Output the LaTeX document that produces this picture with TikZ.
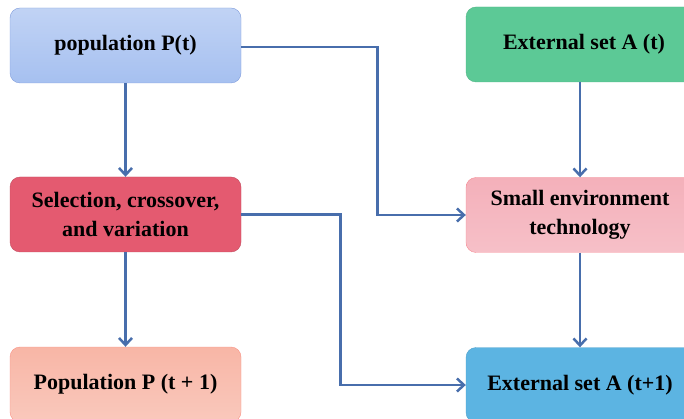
\documentclass[tikz,border=0pt]{standalone}
\usepackage{fontspec}
\setmainfont{Liberation Serif}
\usetikzlibrary{arrows.meta}

\definecolor{linkblue}{RGB}{72,110,172}
\definecolor{popblue}{RGB}{166,192,240}
\definecolor{popedge}{RGB}{128,156,220}
\definecolor{extgreen}{RGB}{92,201,150}
\definecolor{selred}{RGB}{228,90,112}
\definecolor{envpink}{RGB}{244,176,186}
\definecolor{nextsalmon}{RGB}{248,182,166}
\definecolor{extsky}{RGB}{92,180,226}

\tikzset{
	box/.style={rounded corners=10pt, minimum width=231pt, minimum height=75pt,
		inner sep=0pt, align=center, font=\fontsize{22}{28.5}\selectfont\bfseries, text=black},
	link/.style={draw=linkblue, line width=2.7pt, -{Straight Barb[length=7pt,width=13pt,line width=2.5pt]}}
}

\begin{document}
\begin{tikzpicture}[x=1pt,y=1pt]
	\useasboundingbox (0,-419) rectangle (684,0);

	\node[box, draw=popedge, top color=popblue!70!white, bottom color=popblue] (pop) at (125.5,-45.5) {population P(t)};
	\node[box, draw=extgreen!90!black, fill=extgreen, minimum width=228pt] (ext) at (580,-44.5) {\hspace*{8pt}External set A (t)};
	\node[box, draw=selred!85!black, fill=selred] (sel) at (125.5,-214.5) {Selection, crossover,\\and variation};
	\node[box, draw=envpink!80!red, top color=envpink, bottom color=envpink!80!white, minimum width=228pt] (env) at (580,-215) {Small environment\\technology};
	\node[box, draw=nextsalmon!80!red, top color=nextsalmon, bottom color=nextsalmon!75!white] (next) at (125.5,-384.5) {Population P (t + 1)};
	\node[box, draw=extsky!90!black, fill=extsky, minimum width=228pt] (extnext) at (580,-385) {External set A (t+1)};

	\draw[link] (pop) -- (sel);
	\draw[link] (sel) -- (next);
	\draw[link] (ext) -- (env);
	\draw[link] (env) -- (extnext);
	\draw[link] (pop.east |- 0,-47) -- ++(136,0) |- (env.west);
	\draw[link] (sel.east) -- ++(99,0) |- (extnext.west);
\end{tikzpicture}
\end{document}
